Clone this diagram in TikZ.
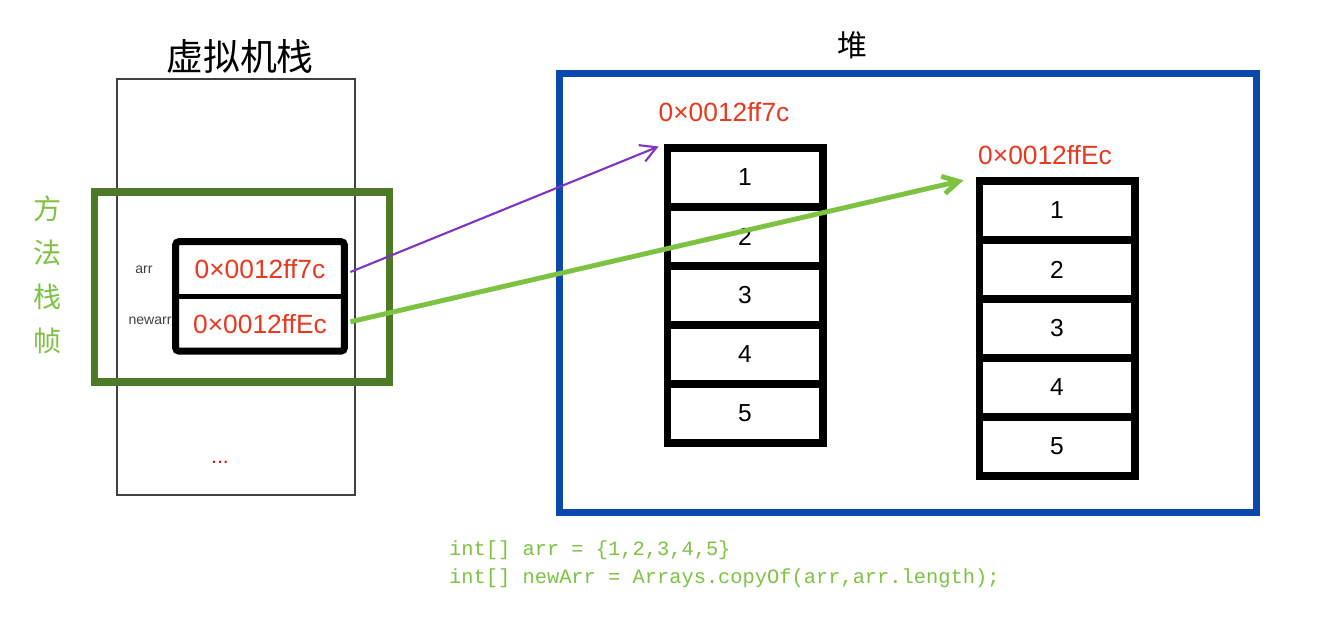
\documentclass[tikz,border=0pt]{standalone}
\usepackage{fontspec}
\setmainfont{Liberation Sans}
\newfontfamily\cjk{Noto Sans CJK SC}
\newfontfamily\codefont{Liberation Mono}
\usepackage{tikz}
\usetikzlibrary{arrows.meta,positioning,fit}

\definecolor{vmgray}{HTML}{404040}
\definecolor{framegreen}{HTML}{4E7A27}
\definecolor{codegreen}{HTML}{7DC242}
\definecolor{heapblue}{HTML}{0A47AE}
\definecolor{addrred}{HTML}{E8381F}
\definecolor{ptrpurple}{HTML}{7F35C0}

\begin{document}
\begin{tikzpicture}[
  x=0.02cm,y=-0.02cm,
  cell/.style={draw,line width=4pt,minimum width=3.12cm,minimum height=1.18cm,
    inner sep=0pt,font=\fontsize{14}{14}\selectfont},
  ptr/.style={draw,line width=1.6pt,minimum width=3.32cm,minimum height=1.04cm,
    inner sep=0pt,text=addrred,font=\fontsize{15}{15}\selectfont},
  addr/.style={text=addrred,font=\fontsize{15}{15}\selectfont},
  varname/.style={text=vmgray,font=\fontsize{8}{8}\selectfont},
  title/.style={font=\cjk\fontsize{21}{21}\selectfont},
  link/.style={-{Straight Barb[length=9pt,width=10pt]}}
]
  \useasboundingbox (0,0) rectangle (1339,639);

  % virtual machine stack
  \node[draw=vmgray,line width=1.2pt,minimum width=4.76cm,minimum height=8.32cm,
    inner sep=0pt] (vm) at (236,287) {};
  \node[title] (vmtitle) at (240,56) {虚拟机栈};
  \node[text=red,font=\fontsize{12}{12}\selectfont] (more) at (220,462) {...};

  % method frame
  \node[draw=framegreen,line width=4.5pt,minimum width=5.9cm,minimum height=3.8cm,
    inner sep=0pt] (frame) at (242,287) {};
  \node[text=codegreen,font=\cjk\fontsize{16}{25}\selectfont,align=center]
    (frametitle) at (48,275) {方\\法\\栈\\帧};

  % references
  \node[ptr] (p1) at (260,269) {0×0012ff7c};
  \node[ptr,below=0pt of p1] (p2) {0×0012ffEc};
  \node[draw,line width=4pt,rounded corners=2pt,inner sep=0pt,fit=(p1)(p2)] (ptrs) {};
  \node[varname] (n1) at (144,270) {arr};
  \node[varname] (n2) at (150,321) {newarr};

  % heap
  \node[draw=heapblue,line width=4pt,minimum width=13.94cm,minimum height=8.8cm,
    inner sep=0pt] (heap) at (908,293) {};
  \node[title,font=\cjk\fontsize{17}{17}\selectfont] (heaptitle) at (852,45) {堆};

  % arrays
  \foreach \i in {1,...,5} {
    \node[cell] (a\i) at (745,{148+59*(\i-0.5)}) {\i};
    \node[cell] (b\i) at (1057,{181+59*(\i-0.5)}) {\i};
  }
  \node[addr] (addr1) at (724,112) {0×0012ff7c};
  \node[addr] (addr2) at (1045,155) {0×0012ffEc};

  \draw[link,ptrpurple,line width=1.2pt,shorten >=3pt] (p1.east) ++(6,3) -- (a1.north west);
  \draw[link,codegreen,line width=2.8pt,shorten >=7pt] (p2.east) ++(6,-2) -- (b1.north west);

  % code
  \node[text=codegreen,font=\codefont\fontsize{11.6}{16}\selectfont,align=left,anchor=west]
    (code) at (443,564) {int[] arr = \{1,2,3,4,5\}\\int[] newArr = Arrays.copyOf(arr,arr.length);};
\end{tikzpicture}
\end{document}
